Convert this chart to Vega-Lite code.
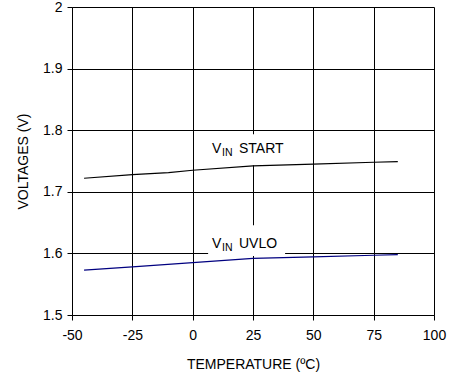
{
  "$schema": "https://vega.github.io/schema/vega-lite/v6.json",
  "autosize": "none",
  "width": 362,
  "height": 308,
  "padding": {"left": 72, "top": 7, "right": 28, "bottom": 59},
  "background": "white",
  "config": {
    "view": {"stroke": null},
    "font": "Liberation Sans",
    "axis": {
      "labelFont": "Liberation Sans",
      "titleFont": "Liberation Sans",
      "labelFontSize": 14,
      "titleFontSize": 14,
      "titleFontWeight": "normal",
      "labelColor": "black",
      "titleColor": "black",
      "domainColor": "black",
      "tickColor": "black",
      "gridColor": "black",
      "gridOpacity": 1,
      "gridWidth": 1,
      "tickSize": 5,
      "domainWidth": 1
    }
  },
  "datasets": {
    "curves": [
      {"series": "START", "T": -45, "V": 1.722},
      {"series": "START", "T": -25, "V": 1.728},
      {"series": "START", "T": -10, "V": 1.731},
      {"series": "START", "T": 0, "V": 1.735},
      {"series": "START", "T": 25, "V": 1.742},
      {"series": "START", "T": 50, "V": 1.745},
      {"series": "START", "T": 75, "V": 1.748},
      {"series": "START", "T": 85, "V": 1.749},
      {"series": "UVLO", "T": -45, "V": 1.573},
      {"series": "UVLO", "T": -25, "V": 1.578},
      {"series": "UVLO", "T": 0, "V": 1.585},
      {"series": "UVLO", "T": 25, "V": 1.592},
      {"series": "UVLO", "T": 50, "V": 1.5945},
      {"series": "UVLO", "T": 75, "V": 1.597},
      {"series": "UVLO", "T": 85, "V": 1.598}
    ],
    "labels": [
      {"series": "START", "T": 8, "V": 1.7622, "T1": 6.4, "T2": 41.6, "V1": 1.743, "V2": 1.7935, "main": "V", "sub": "IN", "rest": "START"},
      {"series": "UVLO", "T": 8, "V": 1.6081, "T1": 6.4, "T2": 38.3, "V1": 1.5956, "V2": 1.6459, "main": "V", "sub": "IN", "rest": "UVLO"}
    ]
  },
  "layer": [
    {
      "data": {"name": "labels"},
      "mark": {"type": "rect", "fill": "white", "stroke": null},
      "encoding": {
        "x": {"field": "T1", "type": "quantitative", "scale": {"domain": [-50, 100], "nice": false},
          "axis": {"values": [-50, -25, 0, 25, 50, 75, 100], "labelExpr": "datum.value < 0 ? '-' + abs(datum.value) : '' + datum.value", "title": "TEMPERATURE (ºC)", "grid": true, "labelPadding": 8, "titlePadding": 15, "labelFlush": false}},
        "x2": {"field": "T2"},
        "y": {"field": "V1", "type": "quantitative", "scale": {"domain": [1.5, 2], "nice": false, "zero": false},
          "axis": {"values": [1.5, 1.6, 1.7, 1.8, 1.9, 2.0], "format": ".2~f", "title": "VOLTAGES (V)", "grid": true, "labelPadding": 5, "titlePadding": 12, "labelFlush": false}},
        "y2": {"field": "V2"}
      }
    },
    {
      "data": {"name": "curves"},
      "mark": {"type": "line", "strokeWidth": 1.2},
      "encoding": {
        "x": {"field": "T", "type": "quantitative"},
        "y": {"field": "V", "type": "quantitative"},
        "detail": {"field": "series"},
        "color": {"field": "series", "type": "nominal", "scale": {"domain": ["START", "UVLO"], "range": ["#000000", "#000080"]}, "legend": null}
      }
    },
    {
      "data": {"name": "labels"},
      "mark": {"type": "text", "align": "left", "baseline": "alphabetic", "fontSize": 14, "color": "black", "font": "Liberation Sans"},
      "encoding": {
        "x": {"field": "T", "type": "quantitative"},
        "y": {"field": "V", "type": "quantitative"},
        "text": {"field": "main"}
      }
    },
    {
      "data": {"name": "labels"},
      "mark": {"type": "text", "align": "left", "baseline": "alphabetic", "fontSize": 10.5, "dx": 10, "dy": 3, "color": "black", "font": "Liberation Sans"},
      "encoding": {
        "x": {"field": "T", "type": "quantitative"},
        "y": {"field": "V", "type": "quantitative"},
        "text": {"field": "sub"}
      }
    },
    {
      "data": {"name": "labels"},
      "mark": {"type": "text", "align": "left", "baseline": "alphabetic", "fontSize": 14, "dx": 27, "color": "black", "font": "Liberation Sans"},
      "encoding": {
        "x": {"field": "T", "type": "quantitative"},
        "y": {"field": "V", "type": "quantitative"},
        "text": {"field": "rest"}
      }
    }
  ]
}
